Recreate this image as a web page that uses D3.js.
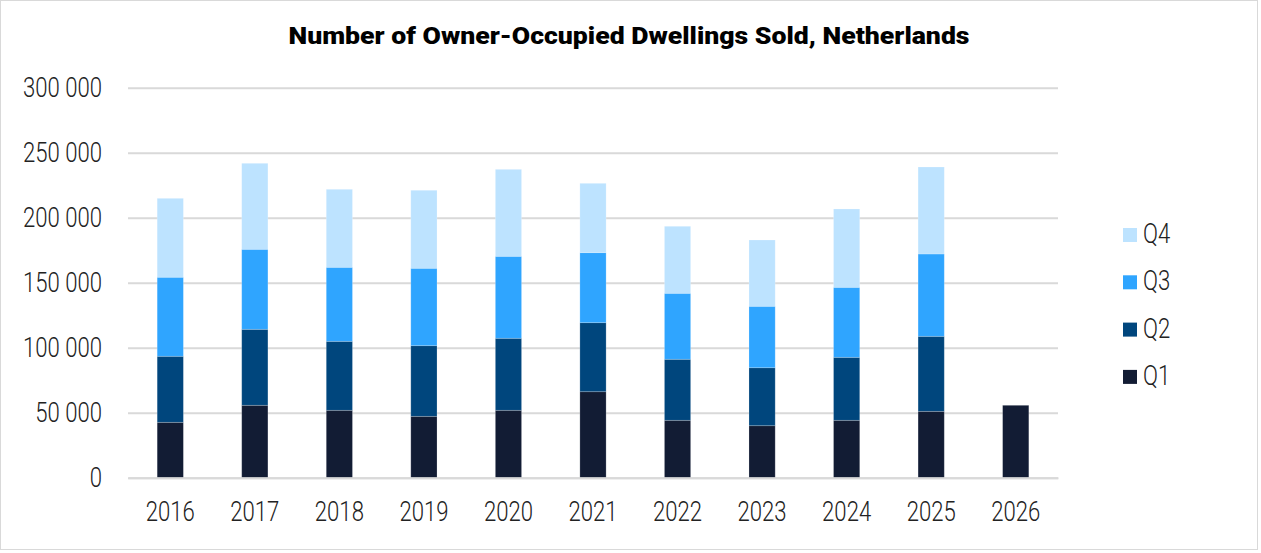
<!DOCTYPE html>
<html>
<head>
<meta charset="utf-8">
<script src="https://cdn.jsdelivr.net/npm/d3@7"></script>
<style>
  body { margin: 0; background: #fff; }
  svg { display: block; font-family: Roboto, "Noto Sans", sans-serif; }
</style>
</head>
<body>
<script>
var w = 1261;
var h = 553;

// data
var years = ["2016", "2017", "2018", "2019", "2020", "2021", "2022", "2023", "2024", "2025", "2026"];
var quarters = ["Q1", "Q2", "Q3", "Q4"];
var q1 = [42600, 55700, 51850, 47200, 51850, 66150, 44150, 40000, 44150, 51050, 55700];
var q2 = [50800, 58450, 53050, 54350, 55400, 53100, 46950, 44600, 48450, 57700, 0];
var q3 = [60800, 61550, 56950, 59550, 63050, 53850, 50750, 47250, 53850, 63350, 0];
var q4 = [60700, 66150, 60000, 60000, 66900, 53350, 51550, 51000, 60250, 66900, 0];
var yTicks = [0, 50000, 100000, 150000, 200000, 250000, 300000];
var colors = ["#121c34", "#00467d", "#2fa5ff", "#bde3ff"];

var rows = years.map(function(y, i) {
  return { year: y, Q1: q1[i], Q2: q2[i], Q3: q3[i], Q4: q4[i] };
});

// text in the original is tall and narrow, squeeze it sideways
function condense(sel, f) {
  sel.each(function() {
    var len = this.getComputedTextLength();
    d3.select(this).attr("textLength", len * f).attr("lengthAdjust", "spacingAndGlyphs");
  });
}

var svg = d3.select("body").append("svg")
  .attr("width", w)
  .attr("height", h);

// outer frame
svg.append("rect")
  .attr("x", 0.5).attr("y", 0.5)
  .attr("width", w - 4).attr("height", h - 4)
  .attr("fill", "#fff")
  .attr("stroke", "#d9d9d9");

svg.append("text")
  .attr("x", 629).attr("y", 43.5)
  .attr("text-anchor", "middle")
  .attr("font-size", 24)
  .attr("font-weight", 900)
  .attr("textLength", 681)
  .attr("lengthAdjust", "spacingAndGlyphs")
  .attr("fill", "#000")
  .text("Number of Owner-Occupied Dwellings Sold, Netherlands");

var x = d3.scaleBand()
  .domain(years)
  .range([128, 1058])
  .paddingInner(0.69)
  .paddingOuter(0.345);

var y = d3.scaleLinear()
  .domain([0, 300000])
  .range([477.7, 87.7]);

var fmt = function(v) { return d3.format(",")(v).replace(/,/g, " "); };

// grid + y labels
var yAxis = d3.axisLeft(y)
  .tickValues(yTicks)
  .tickSize(-(1058 - 128))
  .tickPadding(26)
  .tickFormat(fmt);

var ga = svg.append("g")
  .attr("transform", "translate(128,0)")
  .call(yAxis);
ga.select(".domain").remove();
ga.selectAll(".tick line").attr("stroke", "#d9d9d9").attr("stroke-width", 2);
ga.selectAll(".tick text")
  .attr("font-size", 28).attr("font-weight", 300)
  .attr("fill", "#222").attr("font-family", "Roboto")
  .call(condense, 0.79);

var stack = d3.stack().keys(quarters);
var series = stack(rows);

var g = svg.append("g");
g.selectAll("g.s")
  .data(series)
  .enter().append("g")
  .attr("fill", function(d, i) { return colors[i]; })
  .selectAll("rect")
  .data(function(d) { return d.filter(function(p) { return p[1] > p[0]; }); })
  .enter().append("rect")
  .attr("x", function(d) { return x(d.data.year); })
  .attr("width", x.bandwidth())
  .attr("y", function(d) { return y(d[1]); })
  .attr("height", function(d) { return y(d[0]) - y(d[1]); })
  .attr("stroke", "rgba(255,255,255,0.25)")
  .attr("stroke-width", 0.8);

// x axis
var xAxis = d3.axisBottom(x).tickSize(0).tickPadding(23);
var gx = svg.append("g")
  .attr("transform", "translate(0,477.7)")
  .call(xAxis);
gx.select(".domain").attr("stroke", "#d9d9d9").attr("stroke-width", 2);
gx.selectAll(".tick text")
  .attr("font-size", 28).attr("font-weight", 300)
  .attr("fill", "#222").attr("font-family", "Roboto")
  .call(condense, 0.79);

// legend (Q4 at top)
var legend = svg.append("g");
var items = quarters.slice().reverse();
var li = legend.selectAll("g")
  .data(items)
  .enter().append("g")
  .attr("transform", function(d, i) { return "translate(1123," + (228 + i * 47.3) + ")"; });
li.append("rect")
  .attr("width", 14).attr("height", 14)
  .attr("fill", function(d) { return colors[quarters.indexOf(d)]; });
li.append("text")
  .attr("x", 20).attr("y", 15)
  .attr("font-size", 28).attr("font-weight", 300)
  .attr("fill", "#222")
  .text(function(d) { return d; })
  .call(condense, 0.79);
</script>
</body>
</html>
